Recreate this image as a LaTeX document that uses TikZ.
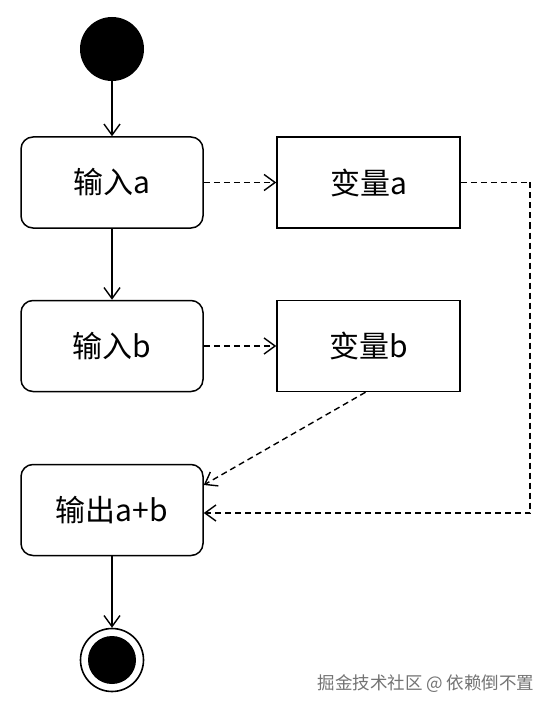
\documentclass[tikz,border=0pt]{standalone}
\usepackage{fontspec}
\setmainfont{Noto Sans CJK SC}
\usetikzlibrary{arrows.meta,calc}
\begin{document}
\begin{tikzpicture}[x=1pt,y=-1pt,
  act/.style={draw, line width=1.5pt, rounded corners=12pt, minimum width=182pt, minimum height=91pt, inner sep=0pt, font=\fontsize{30}{34}\selectfont},
  varbox/.style={draw, line width=1.5pt, minimum width=183pt, minimum height=91pt, inner sep=0pt, font=\fontsize{30}{34}\selectfont},
  flow/.style={line width=1.4pt, -{Straight Barb[length=11pt,width=16pt,line width=1.4pt]}},
  dflow/.style={flow, dash pattern=on 6pt off 4pt},
  dline/.style={line width=1.4pt, dash pattern=on 6pt off 4pt}]
\useasboundingbox (0,0) rectangle (553,711);
\node[circle, fill=black, minimum size=64pt, inner sep=0pt] (start) at (112,49) {};
\node[act] (ina) at (112,182.5) {输入a};
\node[varbox] (va) at (368.5,182.5) {变量a};
\node[act] (inb) at (112,346) {输入b};
\node[varbox] (vb) at (368.5,346) {变量b};
\node[act] (out) at (112,510) {输出a+b};
\node[circle, draw, line width=1.6pt, minimum size=63pt, inner sep=0pt] (end) at (112,660) {};
\node[circle, fill=black, minimum size=48pt, inner sep=0pt] (endin) at (end.center) {};
\coordinate (turn) at (530,182.5);
\draw[flow] (start.south) -- (ina.north);
\draw[flow] (ina.south) -- (inb.north);
\draw[flow] (out.south) -- (end.north);
\draw[dflow] (ina.east) -- (va.west);
\draw[dflow] (inb.east) -- (vb.west);
\draw[dline] (va.east) -- (turn);
\draw[dflow] (turn) |- ([yshift=-3pt]out.east);
\draw[dflow] ([xshift=-3pt]vb.south) -- ([yshift=25pt]out.east);
\node[text=black!55, font=\fontsize{17.5}{20}\selectfont] (wm) at (426,684) {掘金技术社区 @ 依赖倒不置};
\end{tikzpicture}
\end{document}
